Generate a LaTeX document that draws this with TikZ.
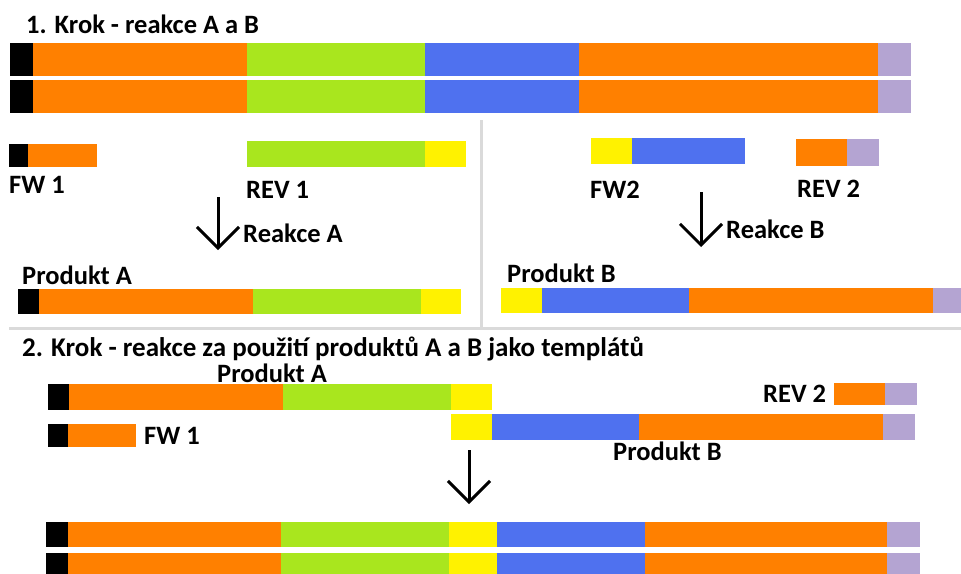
\documentclass[tikz,border=0pt]{standalone}
\usepackage{fontspec}
\setmainfont{Carlito}
\usetikzlibrary{arrows.meta}
\definecolor{dnablack}{HTML}{000000}
\definecolor{dnaorange}{HTML}{FF8000}
\definecolor{dnagreen}{HTML}{A9E61E}
\definecolor{dnablue}{HTML}{4F71EF}
\definecolor{dnayellow}{HTML}{FFF200}
\definecolor{dnapurple}{HTML}{B4A4D2}
\definecolor{divgray}{HTML}{DADADA}
\begin{document}
\begin{tikzpicture} [
        x=1pt, y=-1pt,
        lbl/.style={anchor=base west, inner sep=0pt, font=\fontsize{26.5}{30}\selectfont\bfseries},
        react/.style={line width=3pt, -{Straight Barb[length=21pt,width=42pt]}},
        divider/.style={draw=divgray, line width=3pt} ]
    \useasboundingbox (0,0) rectangle (961,573);
    % 1. krok
    \node[lbl] (title1) at (26,33) {1. Krok - reakce A a B};
    \foreach \y in {43,80}
      \foreach \a/\b/\c in {10/33/dnablack, 33/247/dnaorange, 247/425/dnagreen,
                            425/579/dnablue, 579/878/dnaorange, 878/911/dnapurple}
        \fill[\c] (\a,\y) rectangle (\b,\y+33);
    \draw[divider] (9,328) -- (961,328);
    \draw[divider] (481,120) -- (481,328);
    % reakce A
    \foreach \a/\b/\c in {9/28/dnablack, 28/97/dnaorange}
      \fill[\c] (\a,144) rectangle (\b,167);
    \foreach \a/\b/\c in {247/425/dnagreen, 425/466/dnayellow}
      \fill[\c] (\a,141) rectangle (\b,167);
    \node[lbl] (fw1) at (9,193) {FW 1};
    \node[lbl] (rev1) at (246,198) {REV 1};
    \coordinate (reakA1) at (218,197);
    \coordinate (reakA2) at (218,250);
    \draw[react] (reakA1) -- (reakA2);
    \node[lbl] (reakceA) at (243,242) {Reakce A};
    \node[lbl] (prodA) at (22,284) {Produkt A};
    \foreach \a/\b/\c in {18/39/dnablack, 39/253/dnaorange, 253/421/dnagreen, 421/461/dnayellow}
      \fill[\c] (\a,289) rectangle (\b,314);
    % reakce B
    \foreach \a/\b/\c in {591/632/dnayellow, 632/745/dnablue}
      \fill[\c] (\a,138) rectangle (\b,164);
    \foreach \a/\b/\c in {796/847/dnaorange, 847/879/dnapurple}
      \fill[\c] (\a,139) rectangle (\b,166);
    \node[lbl] (fw2) at (590,198) {FW2};
    \node[lbl] (rev2) at (797,197) {REV 2};
    \coordinate (reakB1) at (701,192);
    \coordinate (reakB2) at (701,247);
    \draw[react] (reakB1) -- (reakB2);
    \node[lbl] (reakceB) at (726,238) {Reakce B};
    \node[lbl] (prodB) at (507,282) {Produkt B};
    \foreach \a/\b/\c in {501/542/dnayellow, 542/689/dnablue, 689/933/dnaorange, 933/961/dnapurple}
      \fill[\c] (\a,288) rectangle (\b,313);
    % 2. krok
    \node[lbl, font=\fontsize{27}{30}\selectfont\bfseries] (title2) at (22,356)
      {2. Krok - reakce za použití produktů A a B jako templátů};
    \node[lbl] (prodA2) at (217,382) {Produkt A};
    \foreach \a/\b/\c in {48/69/dnablack, 69/283/dnaorange, 283/451/dnagreen, 451/492/dnayellow}
      \fill[\c] (\a,384) rectangle (\b,410);
    \foreach \a/\b/\c in {48/68/dnablack, 68/136/dnaorange}
      \fill[\c] (\a,424) rectangle (\b,447);
    \node[lbl] (fw1b) at (144,444) {FW 1};
    \node[lbl] (rev2b) at (763,402) {REV 2};
    \foreach \a/\b/\c in {834/885/dnaorange, 885/917/dnapurple}
      \fill[\c] (\a,383) rectangle (\b,405);
    \foreach \a/\b/\c in {451/492/dnayellow, 492/639/dnablue, 639/883/dnaorange, 883/915/dnapurple}
      \fill[\c] (\a,414) rectangle (\b,440);
    \node[lbl] (prodB2) at (613,460) {Produkt B};
    \coordinate (prod1) at (469,450);
    \coordinate (prod2) at (469,504);
    \draw[react] (prod1) -- (prod2);
    \foreach \y in {522,553}
      \foreach \a/\b/\c in {46/68/dnablack, 68/281/dnaorange, 281/449/dnagreen, 449/497/dnayellow,
                            497/645/dnablue, 645/887/dnaorange, 887/920/dnapurple}
        \fill[\c] (\a,\y) rectangle (\b,\y+25);
\end{tikzpicture}
\end{document}
